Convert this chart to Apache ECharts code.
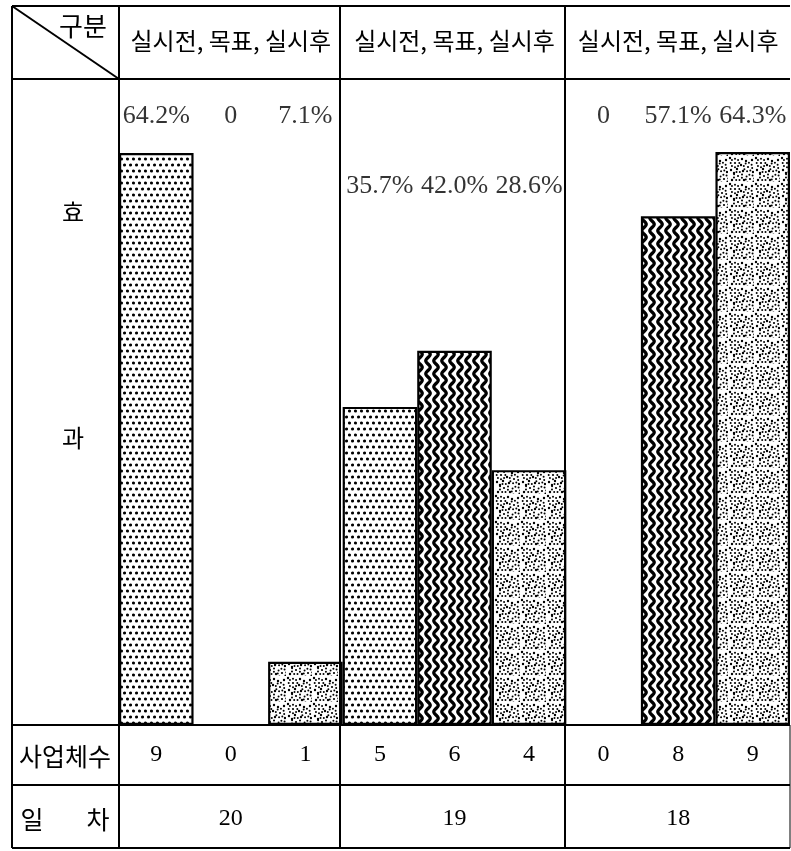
<!DOCTYPE html>
<html><head><meta charset="utf-8">
<script src="https://cdn.jsdelivr.net/npm/echarts@6/dist/echarts.min.js"></script>
<style>html,body{margin:0;padding:0;background:#fff}#c{width:791px;height:851px}</style>
</head><body><div id="c"></div>
<script>
// ---------- data ----------
const days = ['20', '19', '18'];                 // 일차
const seriesNames = ['실시전', '목표', '실시후'];
const preValues = [64.2, 35.7, 0];                // 실시전 효과(%)
const targetValues = [0, 42.0, 57.1];             // 목표 효과(%)
const postValues = [7.1, 28.6, 64.3];             // 실시후 효과(%)
const preCounts = [9, 5, 0];                      // 사업체수 실시전
const targetCounts = [0, 6, 8];                   // 사업체수 목표
const postCounts = [1, 4, 9];                     // 사업체수 실시후

// ---------- layout constants ----------
const LABEL_ROW = [68.3, 60.5, 68.3];             // y-level (axis units) of % label row per group
const SERIF = "'Liberation Serif','DejaVu Serif',serif";
const KR = "'Noto Sans CJK KR','Noto Sans',sans-serif";

// ---------- patterns ----------
function makeCanvas(w, h) { const c = document.createElement('canvas'); c.width = w; c.height = h; const g = c.getContext('2d'); g.fillStyle = '#fff'; g.fillRect(0, 0, w, h); return [c, g]; }
function dot(g, x, y, r) { g.beginPath(); g.arc(x, y, r, 0, Math.PI * 2); g.fill(); }
function dotPattern() {
  const [c, g] = makeCanvas(6, 12); g.fillStyle = '#000';
  [[1.5, 3], [4.5, 9]].forEach(([x, y]) => dot(g, x, y, 1.55));
  return c;
}
function wavePattern() {
  const [c, g] = makeCanvas(8, 13); g.strokeStyle = '#000'; g.lineWidth = 3.3; g.beginPath();
  for (let y = -2; y <= 15; y += 0.5) { const x = 4 + 2.2 * Math.sin(2 * Math.PI * y / 13); if (y === -2) g.moveTo(x, y); else g.lineTo(x, y); }
  g.stroke(); return c;
}
function ringPattern() {
  const [c, g] = makeCanvas(26, 26); g.fillStyle = '#000';
  const rings = [[7, 7], [20, 11], [10, 20], [22, 23]];
  rings.forEach(([cx, cy], k) => {
    for (let i = 0; i < 8; i++) {
      const a = i / 8 * Math.PI * 2 + k;
      dot(g, cx + 4.3 * Math.cos(a), cy + 4.3 * Math.sin(a), 1.0);
    }
    dot(g, cx, cy, 1.1);
  });
  [[14, 3], [3, 14], [15, 15], [24, 4], [4, 24], [16, 24], [13, 9], [25, 16], [2, 2], [9, 13], [18, 5], [6, 17]].forEach(([x, y]) => dot(g, x, y, 1.2));
  return c;
}
const patterns = [dotPattern(), wavePattern(), ringPattern()];

// ---------- derived ----------
const valuesBySeries = [preValues, targetValues, postValues];
const countsBySeries = [preCounts, targetCounts, postCounts];
const slots = [], slotCounts = [], labelPoints = [];
days.forEach((d, gi) => seriesNames.forEach((s, si) => {
  slots.push(d + '-' + s);
  slotCounts.push(countsBySeries[si][gi]);
  const v = valuesBySeries[si][gi];
  labelPoints.push({ value: [slots.length - 1, LABEL_ROW[gi]], pct: v === 0 ? '0' : v.toFixed(1) + '%' });
}));

const barSeries = seriesNames.map((name, si) => ({
  name, type: 'bar', xAxisIndex: 0, yAxisIndex: 0,
  barWidth: '100%', barGap: '-100%',
  data: slots.map((_, k) => (k % 3 === si ? valuesBySeries[si][Math.floor(k / 3)] : null)),
  itemStyle: { color: { image: patterns[si], repeat: 'repeat' }, borderColor: '#000', borderWidth: 2.2 },
  silent: true
}));

const L = 12, R = 790, T = 6, B = 848, HY = 79, CY = 725, DY = 785, C0 = 119, C1 = 340, C2 = 565;
const ln = (x1, y1, x2, y2, w) => ({ type: 'line', z: 100, shape: { x1, y1, x2, y2 }, style: { stroke: '#000', lineWidth: w || 2 } });
const tx = (text, x, y, size, align) => ({ type: 'text', z: 100, x, y, style: { text, font: size + 'px ' + KR, fill: '#000', align: align || 'center', verticalAlign: 'middle' } });

const chart = echarts.init(document.getElementById('c'), null, { renderer: 'canvas' });
chart.setOption({
  backgroundColor: '#fff',
  animation: false,
  grid: { left: C0, right: 791 - R, top: HY, bottom: 851 - CY, containLabel: false },
  xAxis: [
    { type: 'category', data: slots, position: 'bottom', axisLine: { show: false }, axisTick: { show: false }, splitLine: { show: false },
      axisLabel: { interval: 0, margin: 30, verticalAlign: 'middle', fontFamily: SERIF, fontSize: 24, color: '#000', formatter: (v, i) => String(slotCounts[i]) } },
    { type: 'category', data: days, position: 'bottom', axisLine: { show: false }, axisTick: { show: false },
      axisLabel: { interval: 0, margin: 94, verticalAlign: 'middle', fontFamily: SERIF, fontSize: 24, color: '#000' } },
    { type: 'category', data: days, position: 'top', axisLine: { show: false }, axisTick: { show: false },
      axisLabel: { interval: 0, margin: 38, verticalAlign: 'middle', fontFamily: KR, fontSize: 24, color: '#000', formatter: () => seriesNames.join(', ') } }
  ],
  yAxis: { type: 'value', min: 0, max: 72.5, show: false, splitLine: { show: false } },
  series: barSeries.concat([{
    type: 'scatter', xAxisIndex: 0, yAxisIndex: 0, symbolSize: 0, silent: true, z: 20,
    data: labelPoints,
    label: { show: true, position: 'inside', fontFamily: SERIF, fontSize: 26, color: '#000', formatter: p => p.data.pct }
  }]),
  graphic: [
    ln(L, T, R, T), ln(L, B, R, B), ln(L, T, L, B), ln(R, CY, R, B, 1),
    ln(L, HY, R, HY), ln(L, CY, R, CY), ln(L, DY, R, DY),
    ln(C0, T, C0, B), ln(C1, T, C1, B), ln(C2, T, C2, B),
    ln(L, T, C0, HY),
    tx('구분', 83, 26, 26), tx('효', 73, 212, 24), tx('과', 73, 438, 24),
    tx('사업체수', 65, 756, 25), tx('일', 32, 819, 25), tx('차', 98, 819, 25)
  ]
});
</script></body></html>
